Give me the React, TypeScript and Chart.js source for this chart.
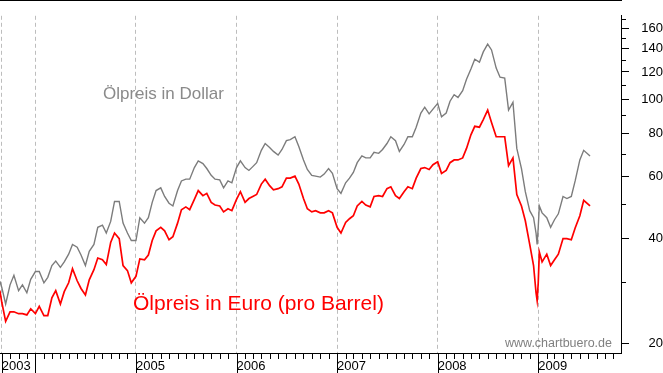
import React, { useEffect, useRef } from 'react';
import { Chart, registerables } from 'chart.js';

Chart.register(...registerables);

// ---- data ----
const dates: string[] = [
  '2003-08-25', '2003-09-01', '2003-09-15', '2003-10-01', '2003-10-15', '2003-11-01', '2003-11-15', '2003-12-01', '2003-12-15',
  '2004-01-01', '2004-01-15', '2004-02-01', '2004-02-15', '2004-03-01', '2004-03-15', '2004-04-01', '2004-04-15',
  '2004-05-01', '2004-05-15', '2004-06-01', '2004-06-15', '2004-07-01', '2004-07-15', '2004-08-01', '2004-08-15',
  '2004-09-01', '2004-09-15', '2004-10-01', '2004-10-15', '2004-11-01', '2004-11-15', '2004-12-01', '2004-12-15',
  '2005-01-01', '2005-01-15', '2005-02-01', '2005-02-15', '2005-03-01', '2005-03-15', '2005-04-01', '2005-04-15',
  '2005-05-01', '2005-05-15', '2005-06-01', '2005-06-15', '2005-07-01', '2005-07-15', '2005-08-01', '2005-08-15',
  '2005-09-01', '2005-09-15', '2005-10-01', '2005-10-15', '2005-11-01', '2005-11-15', '2005-12-01', '2005-12-15',
  '2006-01-01', '2006-01-15', '2006-02-01', '2006-02-15', '2006-03-01', '2006-03-15', '2006-04-01', '2006-04-15',
  '2006-05-01', '2006-05-15', '2006-06-01', '2006-06-15', '2006-07-01', '2006-07-15', '2006-08-01', '2006-08-15',
  '2006-09-01', '2006-09-15', '2006-10-01', '2006-10-15', '2006-11-01', '2006-11-15', '2006-12-01', '2006-12-15',
  '2007-01-01', '2007-01-15', '2007-02-01', '2007-02-15', '2007-03-01', '2007-03-15', '2007-04-01', '2007-04-15',
  '2007-05-01', '2007-05-15', '2007-06-01', '2007-06-15', '2007-07-01', '2007-07-15', '2007-08-01', '2007-08-15',
  '2007-09-01', '2007-09-15', '2007-10-01', '2007-10-15', '2007-11-01', '2007-11-15', '2007-12-01', '2007-12-15',
  '2008-01-01', '2008-01-15', '2008-02-01', '2008-02-15', '2008-03-01', '2008-03-15', '2008-04-01', '2008-04-15',
  '2008-05-01', '2008-05-15', '2008-06-01', '2008-06-15', '2008-07-01', '2008-07-15', '2008-08-01', '2008-08-15',
  '2008-09-01', '2008-09-15', '2008-10-01', '2008-10-15', '2008-11-01', '2008-11-15', '2008-12-01', '2008-12-15',
  '2008-12-24', '2008-12-28',
  '2009-01-01', '2009-01-05', '2009-01-15', '2009-02-01', '2009-02-15', '2009-03-01', '2009-03-15', '2009-04-01',
  '2009-04-15', '2009-05-01', '2009-05-15', '2009-06-01', '2009-06-15', '2009-07-08',
];

const dollarPrice: number[] = [
  30.1, 28.9, 25.9, 29.4, 31.3, 28.3, 29.4, 27.9, 30.5,
  32.1, 32.1, 29.8, 30.9, 33.4, 34.4, 33.0, 34.2, 36.0, 38.4, 37.7, 35.8, 33.4, 36.7, 38.4, 43.0,
  43.6, 41.4, 44.7, 51.0, 51.0, 44.2, 41.4, 39.4,
  39.4, 45.8, 44.2, 45.8, 50.7, 54.8, 55.8, 52.7, 50.4, 49.5, 54.8, 58.4, 59.1, 59.1, 63.8, 66.7,
  65.5, 63.4, 60.6, 59.1, 58.8, 55.8, 58.4, 57.7,
  63.8, 66.7, 63.8, 62.6, 64.2, 65.9, 71.5, 74.8, 72.9, 71.0, 69.3, 71.9, 76.2, 76.7, 78.2, 73.3,
  67.1, 63.0, 60.6, 60.3, 59.9, 61.1, 63.4, 61.4,
  55.5, 53.8, 57.7, 59.5, 61.8, 65.9, 68.9, 68.0, 68.0, 70.6, 70.1, 71.9, 74.8, 78.2, 76.2, 71.0,
  74.3, 78.2, 78.2, 83.3, 91.5, 95.1, 91.0, 93.9,
  97.5, 89.2, 91.5, 98.9, 103.3, 101.4, 106.0, 114.4, 122.3, 130.5, 128.0, 137.0, 144.2, 138.8, 123.1, 115.9,
  115.2, 93.3, 98.2, 72.4, 63.4, 54.4, 48.0, 45.8,
  41.4, 38.4,
  43.0, 49.5, 47.3, 45.8, 43.0, 45.2, 47.0, 52.7, 52.0, 52.7, 58.4, 67.1, 71.5, 68.9,
];

const euroPrice: number[] = [
  28.3, 26.2, 23.1, 24.6, 24.6, 24.3, 24.3, 24.1, 25.1,
  24.3, 25.5, 24.0, 24.0, 27.0, 28.3, 25.9, 28.1, 29.8, 32.7, 30.2, 28.7, 27.5, 30.4, 32.5, 35.1,
  34.7, 33.6, 38.9, 41.4, 39.9, 33.4, 32.3, 29.8,
  31.1, 34.9, 34.7, 35.8, 39.4, 42.0, 43.0, 42.0, 39.6, 40.4, 44.2, 48.3, 49.2, 48.3, 51.7, 54.8,
  53.0, 53.8, 50.7, 49.8, 49.5, 47.6, 48.6, 48.0,
  51.7, 54.4, 50.7, 52.0, 52.7, 53.4, 57.2, 59.1, 56.6, 55.1, 55.5, 56.2, 59.5, 59.5, 60.3, 57.2,
  52.0, 48.6, 47.6, 48.0, 47.3, 47.3, 48.0, 47.3,
  43.0, 41.4, 44.4, 45.5, 46.4, 49.5, 51.0, 49.8, 49.2, 52.7, 53.0, 52.7, 55.5, 56.2, 53.0, 52.0,
  54.4, 56.2, 55.5, 59.5, 63.4, 63.8, 63.0, 65.0,
  66.3, 61.4, 62.6, 65.9, 67.1, 67.1, 68.0, 72.4, 79.2, 83.8, 83.3, 87.6, 93.3, 85.9, 78.2, 78.2,
  78.2, 64.6, 68.0, 53.4, 49.5, 44.9, 38.4, 33.4,
  27.9, 26.5,
  29.8, 36.5, 34.2, 36.0, 33.4, 34.7, 36.0, 39.9, 39.9, 39.6, 42.8, 46.4, 51.4, 49.5,
];

// axis ticks
const yLabelTicks: number[] = [20, 40, 60, 80, 100, 120, 140, 160];
const yMinorTicks: number[] = [30, 50, 70, 90, 110, 130, 150, 170];
const yearTickDates: string[] = ['2003-09-01', '2004-01-01', '2005-01-01', '2006-01-01', '2007-01-01', '2008-01-01', '2009-01-01'];
const yearTickLabels: string[] = ['2003', '', '2005', '2006', '2007', '2008', '2009'];
const monthTickStart = '2003-09-01';
const monthTickEnd = '2009-10-01';

const X_MIN = 2003.648;
const X_MAX = 2009.823;
const Y_MIN = 18.74;
const Y_MAX = 173.9;

function toYear(s: string): number {
  const [y, m, d] = s.split('-').map(Number);
  const start = Date.UTC(y, 0, 1);
  const end = Date.UTC(y + 1, 0, 1);
  return y + (Date.UTC(y, m - 1, d) - start) / (end - start);
}

const FONT = "'Liberation Sans', Arial, Helvetica, sans-serif";

const decorPlugin = {
  id: 'decor',
  afterDraw(chart: any) {
    const { ctx, chartArea, scales } = chart;
    const xs = scales.x;
    const ys = scales.y;
    ctx.save();
    ctx.strokeStyle = '#000';
    ctx.lineWidth = 1;
    ctx.beginPath();
    // top frame line
    ctx.moveTo(0, 0.5);
    ctx.lineTo(chartArea.right + 1, 0.5);
    // month ticks under the x axis
    const [sy, sm] = monthTickStart.split('-').map(Number);
    const [ey, em] = monthTickEnd.split('-').map(Number);
    let y = sy, m = sm;
    let first = true;
    while (y < ey || (y === ey && m <= em)) {
      const ds = `${y}-${String(m).padStart(2, '0')}-01`;
      const px = Math.round(xs.getPixelForValue(toYear(ds))) + 0.5;
      const long = first || m === 1;
      ctx.moveTo(px, chartArea.bottom + 1);
      ctx.lineTo(px, long ? 373 : chartArea.bottom + 6);
      first = false;
      m++;
      if (m > 12) { m = 1; y++; }
    }
    // minor ticks on the value axis
    for (const v of yMinorTicks) {
      const py = Math.round(ys.getPixelForValue(v)) + 0.5;
      ctx.moveTo(chartArea.right + 1, py);
      ctx.lineTo(chartArea.right + 5, py);
    }
    ctx.stroke();

    // annotations
    ctx.textBaseline = 'alphabetic';
    ctx.textAlign = 'left';
    ctx.fillStyle = '#8a8a8a';
    ctx.font = `17px ${FONT}`;
    ctx.fillText('Ölpreis in Dollar', 103, 99);
    ctx.fillStyle = '#ff0000';
    ctx.font = `21px ${FONT}`;
    ctx.fillText('Ölpreis in Euro (pro Barrel)', 133, 310);
    ctx.fillStyle = '#808080';
    ctx.font = `12.5px ${FONT}`;
    ctx.textAlign = 'right';
    ctx.fillText('www.chartbuero.de', 612, 347);
    ctx.restore();
  },
};

export default function App() {
  const canvasRef = useRef<HTMLCanvasElement | null>(null);

  useEffect(() => {
    document.body.style.margin = '0';
    const canvas = canvasRef.current;
    if (!canvas) return;
    const xVals = dates.map(toYear);
    const yearTickValues = yearTickDates.map(toYear);

    const chart = new Chart(canvas, {
      type: 'line',
      data: {
        datasets: [
          {
            label: 'Ölpreis in Dollar',
            data: xVals.map((x, i) => ({ x, y: dollarPrice[i] })),
            borderColor: '#7c7c7c',
            borderWidth: 1.4,
            pointRadius: 0,
            tension: 0,
            fill: false,
          },
          {
            label: 'Ölpreis in Euro',
            data: xVals.map((x, i) => ({ x, y: euroPrice[i] })),
            borderColor: '#ff0000',
            borderWidth: 1.7,
            pointRadius: 0,
            tension: 0,
            fill: false,
          },
        ],
      },
      options: {
        animation: false,
        responsive: false,
        devicePixelRatio: 1,
        events: [],
        layout: { padding: { left: 0, top: 1, right: 0, bottom: 0 } },
        plugins: {
          legend: { display: false },
          tooltip: { enabled: false },
          title: { display: false },
        },
        scales: {
          x: {
            type: 'linear',
            position: 'bottom',
            min: X_MIN,
            max: X_MAX,
            afterBuildTicks: (scale: any) => {
              scale.ticks = yearTickValues.map((v) => ({ value: v }));
            },
            afterFit: (scale: any) => {
              scale.height = 20;
              scale.paddingLeft = 0;
              scale.paddingRight = 0;
            },
            ticks: {
              autoSkip: false,
              maxRotation: 0,
              minRotation: 0,
              align: 'start',
              padding: 0,
              color: '#000',
              font: { family: FONT, size: 13 },
              callback: (_v: any, i: number) => yearTickLabels[i],
            },
            grid: {
              display: true,
              drawOnChartArea: true,
              drawTicks: true,
              tickLength: 6,
              tickWidth: 0,
              color: '#bdbdbd',
              lineWidth: 1,
            },
            border: { display: true, color: '#000', width: 1, dash: [4, 3] },
          },
          y: {
            type: 'logarithmic',
            position: 'right',
            min: Y_MIN,
            max: Y_MAX,
            afterBuildTicks: (scale: any) => {
              scale.ticks = yLabelTicks.map((v) => ({ value: v }));
            },
            afterFit: (scale: any) => {
              scale.width = 42;
            },
            ticks: {
              padding: 8,
              crossAlign: 'far',
              color: '#000',
              font: { family: FONT, size: 13 },
              callback: (v: any) => String(v),
            },
            grid: {
              display: true,
              drawOnChartArea: false,
              drawTicks: true,
              tickLength: 8,
              tickColor: '#000',
            },
            border: { display: true, color: '#000', width: 1 },
          },
        },
      },
      plugins: [decorPlugin],
    } as any);

    return () => chart.destroy();
  }, []);

  return (
    <div style={{ width: 663, height: 373, position: 'relative', background: '#fff' }}>
      <canvas ref={canvasRef} width={663} height={373} style={{ display: 'block' }} />
    </div>
  );
}
